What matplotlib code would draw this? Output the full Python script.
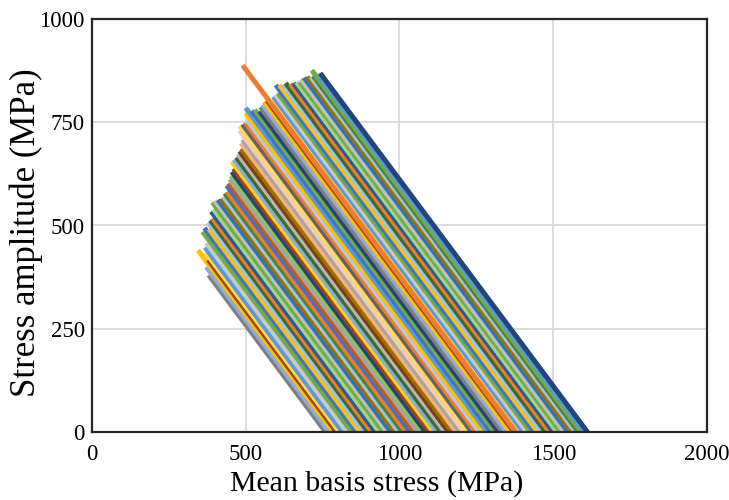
import matplotlib.pyplot as plt

plt.rcParams['font.family'] = ['Liberation Serif', 'DejaVu Serif']

# start point (mean, amplitude) of each line and the mean stress where it reaches zero
x_start = [380, 372, 345, 378, 370, 368, 372, 360, 366, 380, 378, 385, 392, 388,
           395, 392, 400, 410, 420, 428, 432, 440, 438, 445, 448, 452, 455, 460,
           455, 462, 470, 475, 480, 486, 485, 490, 480, 480, 490, 500, 505, 500,
           500, 520, 530, 545, 548, 555, 560, 570, 585, 590, 598, 605, 598, 610,
           622, 630, 645, 655, 665, 676, 680, 690, 700, 712, 720, 490, 715, 735,
           742]
y_start = [380, 400, 440, 417, 435, 447, 458, 485, 494, 492, 507, 513, 518, 534,
           540, 556, 560, 562, 565, 570, 578, 582, 597, 603, 612, 620, 630, 638,
           655, 660, 665, 673, 680, 686, 700, 708, 730, 742, 745, 748, 755, 772,
           785, 778, 780, 777, 787, 793, 800, 802, 805, 812, 816, 821, 840, 840,
           840, 845, 843, 845, 847, 848, 855, 858, 860, 860, 862, 888, 876, 865,
           869]
x_end = [760, 772, 785, 795, 805, 815, 830, 845, 860, 872, 885, 898, 910, 922,
         935, 948, 960, 972, 985, 998, 1010, 1022, 1035, 1048, 1060, 1072, 1085,
         1098, 1110, 1122, 1135, 1148, 1160, 1172, 1185, 1198, 1210, 1222, 1235,
         1248, 1260, 1272, 1285, 1298, 1310, 1322, 1335, 1348, 1360, 1372, 1390,
         1402, 1414, 1426, 1438, 1450, 1462, 1475, 1488, 1500, 1512, 1524, 1535,
         1548, 1560, 1572, 1582, 1378, 1591, 1600, 1611]

palette = ['#7f7f7f', '#8faadc', '#ffc000', '#9e480e', '#ffd966', '#5b9bd5',
           '#c9c9c9', '#70ad47', '#4472c4', '#ffc000', '#9dc3e6', '#43682b',
           '#ed7d31', '#255e91', '#a9d18e', '#70ad47', '#bfbfbf', '#2e75b6',
           '#997300', '#9dc3e6', '#548235', '#ed7d31', '#4472c4', '#c55a11',
           '#a5a5a5', '#8cc168', '#264478', '#9e480e', '#ffcd33', '#7cafdd',
           '#43682b', '#b7b7b7', '#843c0c', '#997300', '#f4b183', '#a5a5a5',
           '#f8cbad', '#ffd966', '#636363', '#ed7d31', '#b4c7e7', '#ffc000',
           '#5b9bd5', '#4472c4', '#70ad47', '#264478']
last_colors = ['#70ad47', '#5b9bd5', '#264478']

fig = plt.figure(figsize=(7.29, 5.0), dpi=100)
ax = fig.add_axes([0.126, 0.136, 0.844, 0.826])

n = len(x_start)
for i in range(n):
    if i >= n - 3:
        c = last_colors[i - (n - 3)]
    else:
        c = palette[i % len(palette)]
    ax.plot([x_start[i], x_end[i]], [y_start[i], 0], color=c,
            linewidth=3.6, solid_capstyle='butt', zorder=3)

ax.set_xlim(0, 2000)
ax.set_ylim(0, 1000)
ax.set_xticks([0, 500, 1000, 1500, 2000])
ax.set_yticks([0, 250, 500, 750, 1000])
ax.grid(True, color='#d9d9d9', linewidth=1.3, zorder=0)
ax.tick_params(length=0, labelsize=16.5)
ax.tick_params(axis='x', pad=9)
ax.tick_params(axis='y', pad=5)
for s in ax.spines.values():
    s.set_color('#262626')
    s.set_linewidth(1.6)
    s.set_zorder(5)

ax.set_xlabel('Mean basis stress (MPa)', fontsize=21.5, va='center')
ax.xaxis.set_label_coords(0.463, -0.124)
ax.set_ylabel('Stress amplitude (MPa)', fontsize=25, va='center')
ax.yaxis.set_label_coords(-0.106, 0.482)

fig.savefig('out.png', dpi=100)
